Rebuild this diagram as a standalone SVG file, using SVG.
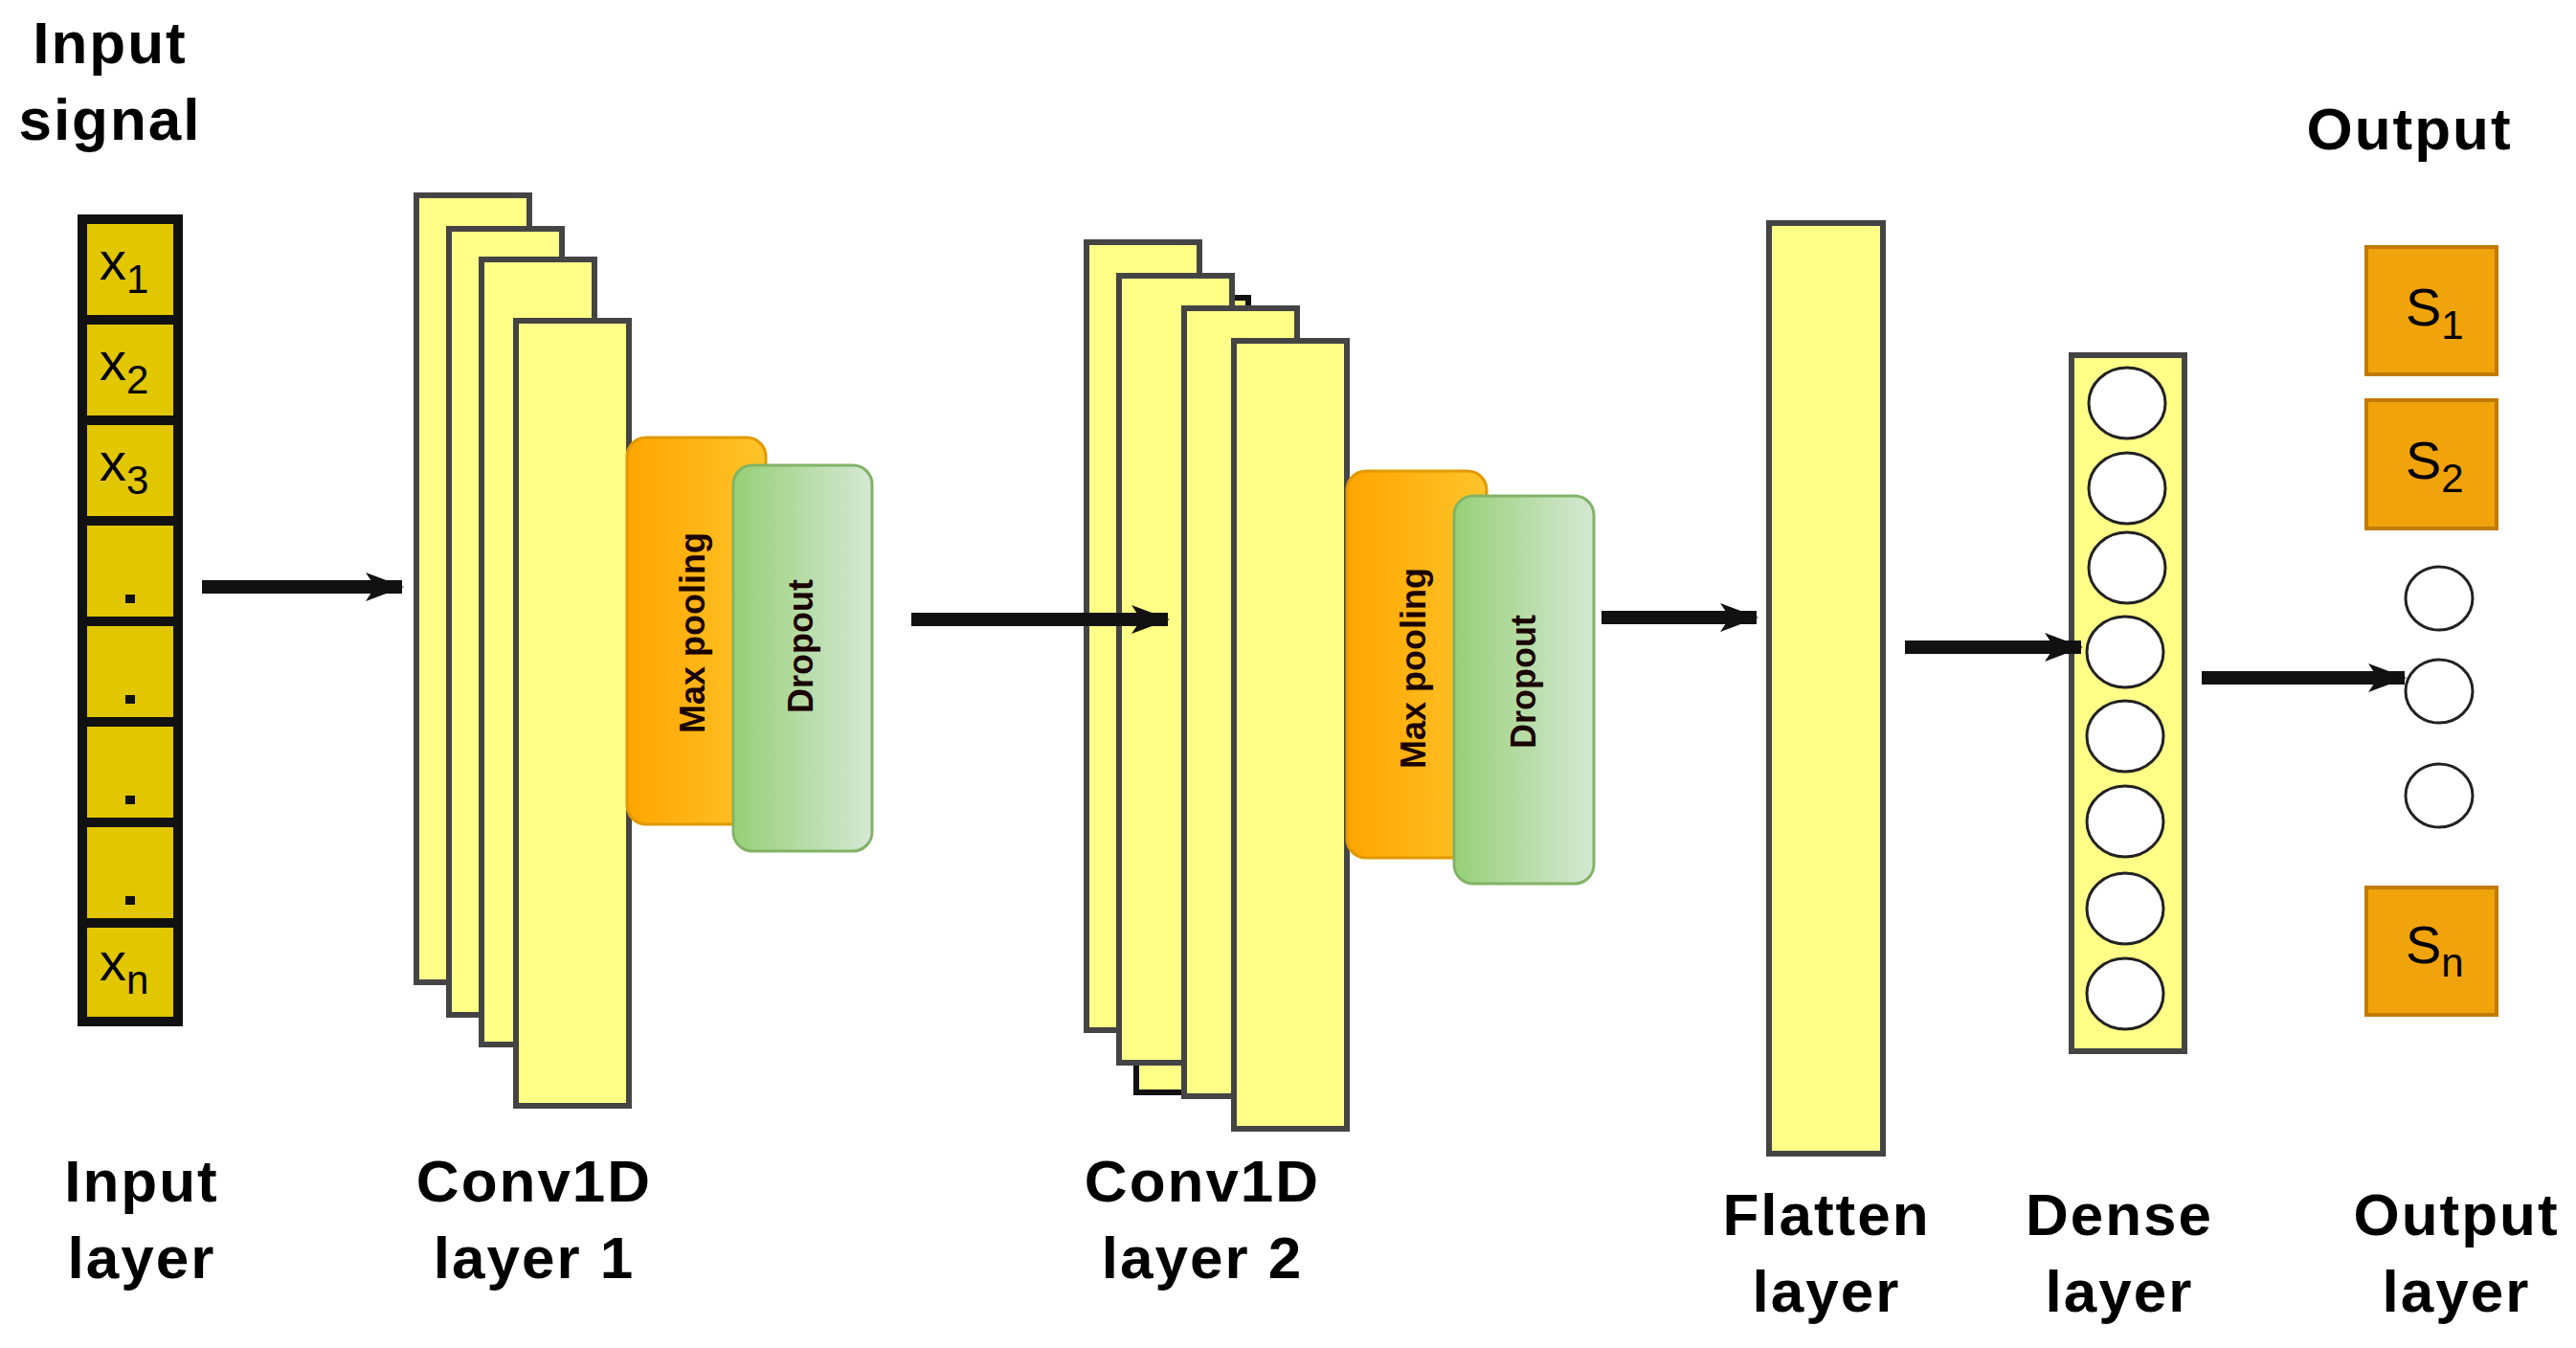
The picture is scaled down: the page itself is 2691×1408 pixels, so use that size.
<svg xmlns="http://www.w3.org/2000/svg" width="2691" height="1408" viewBox="0 0 2691 1408">
<defs>
<linearGradient id="gOr" x1="0" x2="1" y1="0" y2="0"><stop offset="0" stop-color="#FFA500"/><stop offset="1" stop-color="#FFC42A"/></linearGradient>
<linearGradient id="gGr" x1="0" x2="1" y1="0" y2="0"><stop offset="0" stop-color="#97D077"/><stop offset="1" stop-color="#D5E8D4"/></linearGradient>
<marker id="ah" viewBox="0 0 40 30" refX="38" refY="15" markerWidth="40" markerHeight="30" markerUnits="userSpaceOnUse" orient="auto"><path d="M0,0 L40,15 L0,30 L10,15 Z" fill="#111"/></marker>
</defs>
<style>
.lbl{font-family:"Liberation Sans",Arial,sans-serif;font-weight:bold;font-size:62px;fill:#000;text-anchor:middle;letter-spacing:2px}
.conv{fill:#FFFF88;stroke:#444;stroke-width:6}
.cell{fill:#E1C600;stroke:#111;stroke-width:10}
.sym{font-family:"Liberation Sans",Arial,sans-serif;font-size:56px;fill:#000}
.sub{font-size:42px}
.rot{font-family:"Liberation Sans",Arial,sans-serif;font-weight:bold;font-size:36px;fill:#1a0000;text-anchor:middle}
.mp{fill:url(#gOr);stroke:#E09A00;stroke-width:3}
.dp{fill:url(#gGr);stroke:#82B366;stroke-width:3}
.neu{fill:#fff;stroke:#222;stroke-width:3}
.out{fill:#F0A30A;stroke:#C27A00;stroke-width:4}
.arr{stroke:#111;stroke-width:14;fill:none;marker-end:url(#ah)}
</style>
<rect width="2691" height="1408" fill="#fff"/>
<g id="input">
<text class="lbl" x="115" y="66">Input</text>
<text class="lbl" x="115" y="146">signal</text>
<rect class="cell" x="86" y="229" width="100" height="105"/>
<rect class="cell" x="86" y="334" width="100" height="105"/>
<rect class="cell" x="86" y="439" width="100" height="105"/>
<rect class="cell" x="86" y="544" width="100" height="105"/>
<rect class="cell" x="86" y="649" width="100" height="105"/>
<rect class="cell" x="86" y="754" width="100" height="105"/>
<rect class="cell" x="86" y="859" width="100" height="105"/>
<rect class="cell" x="86" y="964" width="100" height="103"/>
<text class="sym" x="104" y="292">x<tspan class="sub" dy="14">1</tspan></text>
<text class="sym" x="104" y="397">x<tspan class="sub" dy="14">2</tspan></text>
<text class="sym" x="104" y="502">x<tspan class="sub" dy="14">3</tspan></text>
<rect x="131" y="621" width="10" height="9" fill="#111"/>
<rect x="131" y="726" width="10" height="9" fill="#111"/>
<rect x="131" y="831" width="10" height="9" fill="#111"/>
<rect x="131" y="936" width="10" height="9" fill="#111"/>
<text class="sym" x="104" y="1024">x<tspan class="sub" dy="14">n</tspan></text>
<text class="lbl" x="148" y="1255">Input</text>
<text class="lbl" x="148" y="1335">layer</text>
</g>
<g id="conv1">
<rect class="conv" x="435" y="204" width="118" height="822"/>
<rect class="conv" x="469" y="239" width="118" height="821"/>
<rect class="conv" x="503" y="271" width="118" height="820"/>
<rect class="conv" x="539" y="335" width="118" height="820"/>
<rect class="mp" x="655" y="457" width="145" height="404" rx="20"/>
<text class="rot" transform="translate(736,661) rotate(-90)">Max pooling</text>
<rect class="dp" x="766" y="486" width="145" height="403" rx="20"/>
<text class="rot" transform="translate(849,675) rotate(-90)">Dropout</text>
<text class="lbl" x="558" y="1255">Conv1D</text>
<text class="lbl" x="558" y="1335">layer 1</text>
</g>
<g id="conv2">
<rect class="conv" x="1135" y="253" width="118" height="823"/>
<rect x="1187" y="311" width="117" height="830" fill="#FFFF88" stroke="#111" stroke-width="6"/>
<rect class="conv" x="1169" y="288" width="118" height="822"/>
<rect class="conv" x="1237" y="322" width="118" height="823"/>
<rect class="conv" x="1289" y="356" width="118" height="823"/>
<rect class="mp" x="1407" y="492" width="146" height="404" rx="20"/>
<text class="rot" transform="translate(1489,698) rotate(-90)">Max pooling</text>
<rect class="dp" x="1519" y="518" width="146" height="405" rx="20"/>
<text class="rot" transform="translate(1604,712) rotate(-90)">Dropout</text>
<text class="lbl" x="1256" y="1255">Conv1D</text>
<text class="lbl" x="1256" y="1335">layer 2</text>
</g>
<g id="flatten">
<rect class="conv" x="1848" y="233" width="119" height="972"/>
<text class="lbl" x="1908" y="1290">Flatten</text>
<text class="lbl" x="1908" y="1370">layer</text>
</g>
<g id="dense">
<rect class="conv" x="2164" y="371" width="118" height="727"/>
<ellipse class="neu" cx="2222" cy="421" rx="40" ry="37"/>
<ellipse class="neu" cx="2222" cy="510" rx="40" ry="37"/>
<ellipse class="neu" cx="2222" cy="593" rx="40" ry="37"/>
<ellipse class="neu" cx="2220" cy="681" rx="40" ry="37"/>
<ellipse class="neu" cx="2220" cy="769" rx="40" ry="37"/>
<ellipse class="neu" cx="2220" cy="858" rx="40" ry="37"/>
<ellipse class="neu" cx="2220" cy="949" rx="40" ry="37"/>
<ellipse class="neu" cx="2220" cy="1038" rx="40" ry="37"/>
<text class="lbl" x="2214" y="1290">Dense</text>
<text class="lbl" x="2214" y="1370">layer</text>
</g>
<g id="output">
<text class="lbl" x="2517" y="156">Output</text>
<rect class="out" x="2472" y="258" width="136" height="133"/>
<text class="sym" x="2513" y="340">S<tspan class="sub" dy="14">1</tspan></text>
<rect class="out" x="2472" y="418" width="136" height="134"/>
<text class="sym" x="2513" y="500">S<tspan class="sub" dy="14">2</tspan></text>
<ellipse class="neu" cx="2548" cy="625" rx="35" ry="33"/>
<ellipse class="neu" cx="2548" cy="722" rx="35" ry="33"/>
<ellipse class="neu" cx="2548" cy="831" rx="35" ry="33"/>
<rect class="out" x="2472" y="927" width="136" height="133"/>
<text class="sym" x="2513" y="1006">S<tspan class="sub" dy="14">n</tspan></text>
<text class="lbl" x="2566" y="1290">Output</text>
<text class="lbl" x="2566" y="1370">layer</text>
</g>
<g id="connectors">
<path class="arr" d="M211,613 H420"/>
<path class="arr" d="M952,647 H1220"/>
<path class="arr" d="M1673,645 H1835"/>
<path class="arr" d="M1990,676 H2174"/>
<path class="arr" d="M2300,708 H2512"/>
</g>
</svg>
